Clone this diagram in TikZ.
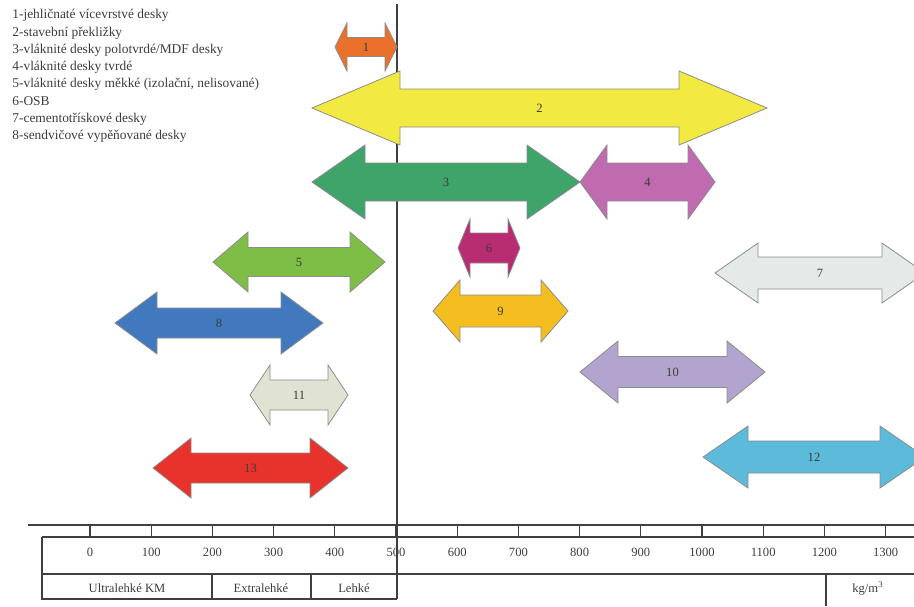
\documentclass[tikz,border=0pt]{standalone}
\usepackage{fontspec}
\setmainfont{Liberation Serif}

\definecolor{c1}{RGB}{234,112,44}
\definecolor{c2}{RGB}{242,234,64}
\definecolor{c3}{RGB}{62,164,106}
\definecolor{c4}{RGB}{192,106,176}
\definecolor{c5}{RGB}{126,190,70}
\definecolor{c6}{RGB}{184,44,114}
\definecolor{c7}{RGB}{228,234,232}
\definecolor{c8}{RGB}{66,120,190}
\definecolor{c9}{RGB}{244,190,32}
\definecolor{c10}{RGB}{178,164,206}
\definecolor{c11}{RGB}{224,227,210}
\definecolor{c12}{RGB}{92,186,218}
\definecolor{c13}{RGB}{232,50,44}
\definecolor{txt}{RGB}{60,60,60}

%% double arrow: colour, left tip, right tip, y, head length, half shaft, half head, label
\newcommand{\deska}[8]{%
  \draw[desk,fill=#1] (#2,#4) -- ({#2+#5},{#4-#7}) -- ({#2+#5},{#4-#6}) -- ({#3-#5},{#4-#6})
    -- ({#3-#5},{#4-#7}) -- (#3,#4) -- ({#3-#5},{#4+#7}) -- ({#3-#5},{#4+#6})
    -- ({#2+#5},{#4+#6}) -- ({#2+#5},{#4+#7}) -- cycle;
  \node[lbl] (d#8) at ({(#2+#3)/2},#4) {#8};}

\begin{document}
\begin{tikzpicture}[x=0.5pt,y=-0.5pt,
    desk/.style={draw=black!45,line width=0.4pt},
    lbl/.style={text=txt,font=\rmfamily\fontsize{6.3}{7.5}\selectfont,inner sep=0pt},
    axis/.style={draw=black!75,line width=0.6pt}]
    \useasboundingbox (0,0) rectangle (914,606);
    \clip (0,0) rectangle (914,606);
    %% Legend
    \node[anchor=north west,align=left,inner sep=0pt,text=txt,font=\rmfamily\fontsize{6.7}{8.65}\selectfont] (legend) at (12,9) {%
        1-jehličnaté vícevrstvé desky\\
        2-stavební překližky\\
        3-vláknité desky polotvrdé/MDF desky\\
        4-vláknité desky tvrdé\\
        5-vláknité desky měkké (izolační, nelisované)\\
        6-OSB\\
        7-cementotřískové desky\\
        8-sendvičové vypěňované desky};
    %% 500 line
    \draw[axis] (397,4) -- (397,599);
    %% Arrows
    \deska{c1}{335}{397}{47}{12}{9.5}{24}{1}
    \deska{c2}{312}{767}{108}{88}{19}{37}{2}
    \deska{c3}{312}{580}{182}{53}{19}{37}{3}
    \deska{c4}{580}{715}{182}{27}{19}{37}{4}
    \deska{c5}{213}{385}{262}{35}{14.5}{30}{5}
    \deska{c6}{458}{520}{248}{12}{15}{29}{6}
    \deska{c7}{715}{925}{273}{43}{16}{30}{7}
    \deska{c8}{115}{323}{323}{42}{15}{31}{8}
    \deska{c9}{433}{568}{311}{27}{16}{31}{9}
    \deska{c10}{580}{765}{372}{38}{15.5}{31}{10}
    \deska{c11}{250}{348}{395}{20}{15}{30}{11}
    \deska{c12}{703}{925}{457}{45}{16}{31}{12}
    \deska{c13}{153}{348}{468}{38}{15}{30}{13}
    %% Scale
    \draw[axis] (28,525) -- (914,525);
    \draw[axis] (42,537) -- (914,537);
    \draw[axis] (42,574) -- (914,574);
    \draw[axis] (42,537) -- (42,599) -- (397,599);
    \draw[axis] (212,574) -- (212,599);
    \draw[axis] (311,574) -- (311,599);
    \draw[axis] (826,574) -- (826,606);
    \foreach \v in {0,100,...,1300} {
        \draw[axis] ({90+0.612*\v},525) -- ({90+0.612*\v},537);
        \node[lbl] (t\v) at ({90+0.612*\v},552) {\v};
    }
    %% Density classes
    \node[lbl] (ultra) at (127,588) {Ultralehké KM};
    \node[lbl] (extra) at (261,588) {Extralehké};
    \node[lbl] (lehke) at (354,588) {Lehké};
    \node[lbl] (unit) at (868,588) {kg/m\textsuperscript{3}};
\end{tikzpicture}
\end{document}
